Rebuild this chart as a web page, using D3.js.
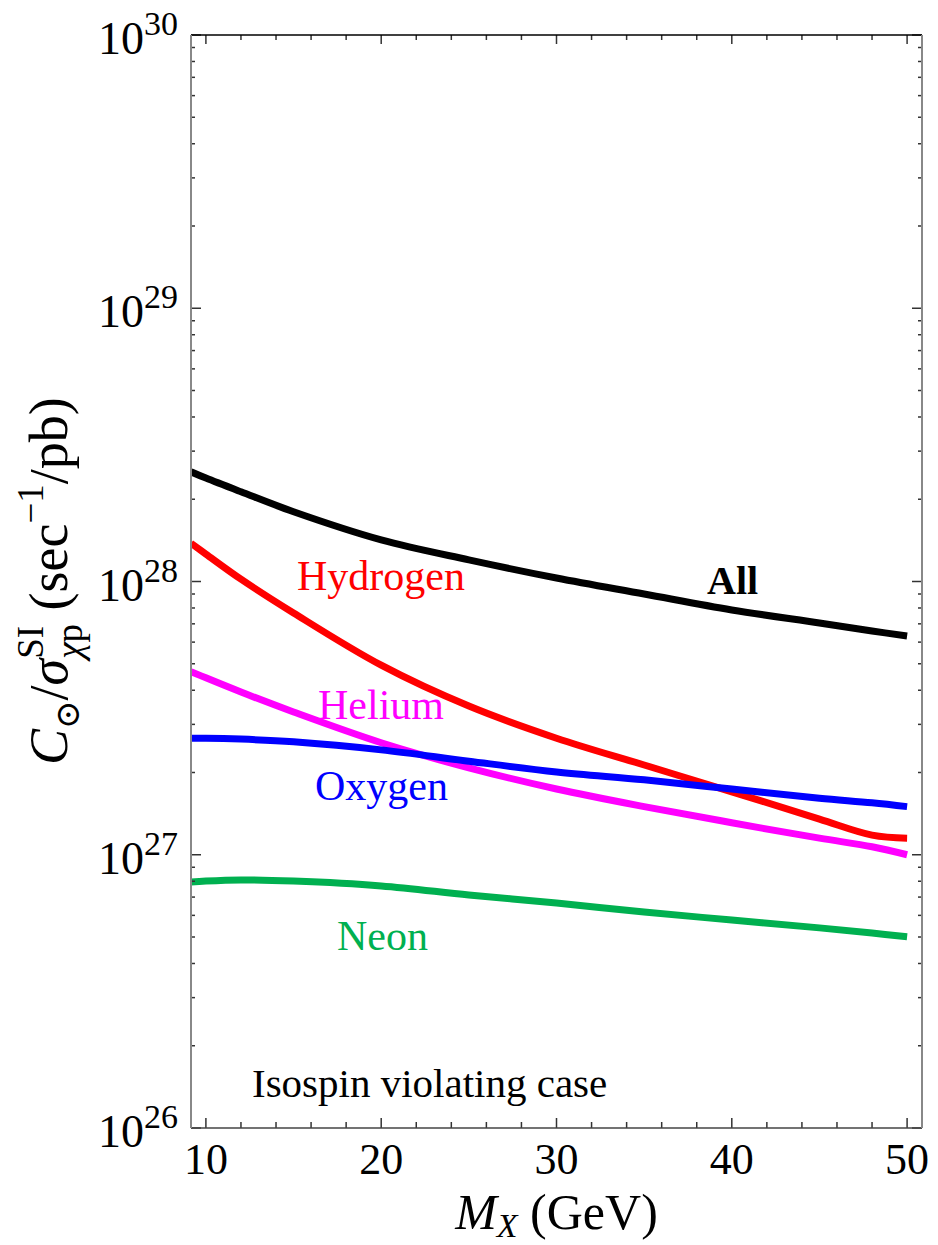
<!DOCTYPE html>
<html lang="en">
<head>
    <meta charset="UTF-8">
    <title>Capture rate vs mass</title>
    <script src="https://d3js.org/d3.v7.min.js"></script>
    <style>
        body { margin: 0; background: #fff; }
        text { font-family: "Liberation Serif", "Times New Roman", serif; }
    </style>
</head>
<body>
<svg id="chart"></svg>
<script>
    // dark matter mass (GeV)
    const masses = [9.15, 10, 12, 15, 20, 25, 30, 35, 40, 45, 48, 50];

    // C_sun / sigma (sec^-1/pb)
    const allVals      = [2.52e28, 2.39e28, 2.13e28, 1.80e28, 1.42e28, 1.20e28, 1.03e28, 9.0e27, 7.87e27, 7.05e27, 6.59e27, 6.32e27];
    const hydrogenVals = [1.38e28, 1.26e28, 1.02e28, 7.67e27, 4.94e27, 3.50e27, 2.67e27, 2.13e27, 1.70e27, 1.35e27, 1.18e27, 1.15e27];
    const heliumVals   = [4.68e27, 4.44e27, 3.94e27, 3.33e27, 2.57e27, 2.08e27, 1.74e27, 1.50e27, 1.31e27, 1.15e27, 1.07e27, 1.0e27];
    const oxygenVals   = [2.67e27, 2.67e27, 2.65e27, 2.59e27, 2.42e27, 2.20e27, 2.01e27, 1.88e27, 1.74e27, 1.61e27, 1.55e27, 1.50e27];
    const neonVals     = [7.94e26, 8.01e26, 8.09e26, 8.01e26, 7.69e26, 7.13e26, 6.66e26, 6.17e26, 5.77e26, 5.40e26, 5.17e26, 5.01e26];

    const series = [
        {name: "All", values: allVals, color: "#000000"},
        {name: "Hydrogen", values: hydrogenVals, color: "#ff0000"},
        {name: "Helium", values: heliumVals, color: "#ff00ff"},
        {name: "Oxygen", values: oxygenVals, color: "#0000ff"},
        {name: "Neon", values: neonVals, color: "#00b050"}
    ];

    const xMajor = [10, 20, 30, 40, 50];
    const yExponents = [26, 27, 28, 29, 30];

    const width = 938, height = 1245;
    const plotL = 191, plotR = 922, plotT = 35, plotB = 1128;

    const svg = d3.select("#chart").attr("width", width).attr("height", height);

    const x = d3.scaleLinear().domain([9.15, 50.85]).range([plotL, plotR]);
    const y = d3.scaleLog().domain([1e26, 1e30]).range([plotB, plotT]);

    // curves
    svg.append("clipPath").attr("id", "clip")
        .append("rect").attr("x", plotL).attr("y", plotT)
        .attr("width", plotR - plotL).attr("height", plotB - plotT);

    const line = d3.line()
        .x((d, i) => x(masses[i]))
        .y(d => y(d))
        .curve(d3.curveCatmullRom.alpha(0.5));

    svg.append("g").attr("clip-path", "url(#clip)")
        .selectAll("path")
        .data(series)
        .join("path")
        .attr("d", d => line(d.values))
        .attr("fill", "none")
        .attr("stroke", d => d.color)
        .attr("stroke-width", 7);

    // ticks
    const xMinor = d3.range(12, 50, 2).filter(v => v % 10 !== 0);
    const yMinor = [];
    for (let e = 26; e < 30; e++) for (let m = 2; m <= 9; m++) yMinor.push(m * Math.pow(10, e));

    const tk = svg.append("g").attr("stroke", "#333").attr("stroke-width", 1.5);
    xMajor.forEach(v => {
        tk.append("line").attr("x1", x(v)).attr("x2", x(v)).attr("y1", plotB).attr("y2", plotB - 10);
        tk.append("line").attr("x1", x(v)).attr("x2", x(v)).attr("y1", plotT).attr("y2", plotT + 9);
    });
    xMinor.forEach(v => {
        tk.append("line").attr("x1", x(v)).attr("x2", x(v)).attr("y1", plotB).attr("y2", plotB - 6);
        tk.append("line").attr("x1", x(v)).attr("x2", x(v)).attr("y1", plotT).attr("y2", plotT + 5);
    });
    yExponents.forEach(e => {
        const v = Math.pow(10, e);
        tk.append("line").attr("x1", plotL).attr("x2", plotL + 10).attr("y1", y(v)).attr("y2", y(v));
        tk.append("line").attr("x1", plotR).attr("x2", plotR - 10).attr("y1", y(v)).attr("y2", y(v));
    });
    yMinor.forEach(v => {
        tk.append("line").attr("x1", plotL).attr("x2", plotL + 4).attr("y1", y(v)).attr("y2", y(v));
        tk.append("line").attr("x1", plotR).attr("x2", plotR - 4).attr("y1", y(v)).attr("y2", y(v));
    });

    // frame
    svg.append("line").attr("x1", plotL).attr("x2", plotR).attr("y1", plotT).attr("y2", plotT)
        .attr("stroke", "#000").attr("stroke-width", 1.5);
    svg.append("line").attr("x1", plotL).attr("x2", plotR).attr("y1", plotB).attr("y2", plotB)
        .attr("stroke", "#444").attr("stroke-width", 1.5);
    svg.append("line").attr("x1", plotL).attr("x2", plotL).attr("y1", plotT).attr("y2", plotB)
        .attr("stroke", "#888").attr("stroke-width", 2);
    svg.append("line").attr("x1", plotR).attr("x2", plotR).attr("y1", plotT).attr("y2", plotB)
        .attr("stroke", "#888").attr("stroke-width", 2);

    // tick labels
    svg.append("g").selectAll("text")
        .data(xMajor)
        .join("text")
        .attr("x", d => x(d))
        .attr("y", 1174)
        .attr("text-anchor", "middle")
        .attr("font-size", 44)
        .text(d => d);

    const yl = svg.append("g").selectAll("text")
        .data(yExponents)
        .join("text")
        .attr("x", 178)
        .attr("y", d => y(Math.pow(10, d)) + 19)
        .attr("text-anchor", "end")
        .attr("font-size", 46);
    yl.append("tspan").text("10");
    yl.append("tspan").attr("font-size", 34).attr("dy", -19).text(d => d);

    // axis titles
    const xt = svg.append("text")
        .attr("x", (plotL + plotR) / 2)
        .attr("y", 1229)
        .attr("text-anchor", "middle")
        .attr("font-size", 50);
    xt.append("tspan").attr("font-style", "italic").text("M");
    xt.append("tspan").attr("font-style", "italic").attr("font-size", 34).attr("dy", 8).text("X");
    xt.append("tspan").attr("dy", -8).text(" (GeV)");

    const yt = svg.append("text")
        .attr("transform", "translate(67,765) rotate(-90)")
        .attr("font-size", 54);
    yt.append("tspan").attr("font-style", "italic").text("C");
    yt.append("tspan").attr("font-size", 34).attr("dy", 12).attr("font-family", "DejaVu Serif").text("\u2299");
    yt.append("tspan").attr("dy", -12).text("/");
    yt.append("tspan").attr("font-style", "italic").text("\u03c3");
    const sup = yt.append("tspan").attr("font-size", 37).attr("dy", -24).text("SI");
    const wSup = sup.node().getComputedTextLength();
    const chi = yt.append("tspan").attr("font-size", 37).attr("font-style", "italic")
        .attr("dx", -wSup).attr("dy", 39).text("\u03c7");
    const pp = yt.append("tspan").attr("font-size", 37).text("p");
    const wSub = chi.node().getComputedTextLength() + pp.node().getComputedTextLength();
    yt.append("tspan").attr("dy", -15).attr("dx", Math.max(0, wSup - wSub)).text(" (sec");
    yt.append("tspan").attr("font-size", 37).attr("dy", -24).text("\u22121");
    yt.append("tspan").attr("dy", 24).text("/pb)");

    // curve labels
    const labels = [
        {text: "All", x: 707, y: 594, color: "#000", size: 40, bold: true},
        {text: "Hydrogen", x: 297, y: 590, color: "#ff0000", size: 42},
        {text: "Helium", x: 318, y: 719, color: "#ff00ff", size: 42},
        {text: "Oxygen", x: 315, y: 800, color: "#0000ff", size: 42},
        {text: "Neon", x: 337, y: 950, color: "#00b050", size: 42},
        {text: "Isospin violating case", x: 252, y: 1097, color: "#000", size: 41}
    ];
    svg.append("g").selectAll("text")
        .data(labels)
        .join("text")
        .attr("x", d => d.x)
        .attr("y", d => d.y)
        .attr("font-size", d => d.size)
        .attr("font-weight", d => d.bold ? "bold" : "normal")
        .attr("fill", d => d.color)
        .text(d => d.text);
</script>
</body>
</html>
